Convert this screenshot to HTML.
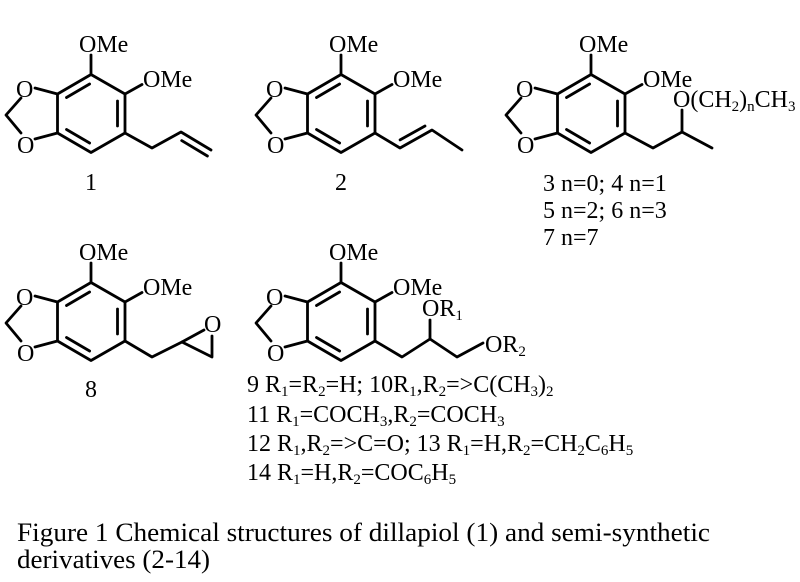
<!DOCTYPE html>
<html><head><meta charset="utf-8"><style>
html,body{margin:0;padding:0;background:#fff;}
svg{display:block;}
text{font-family:"Liberation Serif","Times New Roman",serif;fill:#000;}
</style></head><body>
<svg width="800" height="582" viewBox="0 0 800 582" xmlns="http://www.w3.org/2000/svg">
<rect width="800" height="582" fill="#fff"/>

<!-- Structure 1 -->
<g>
 <g stroke="#000" stroke-width="2.8" fill="none" stroke-linejoin="round" stroke-linecap="round">
  <polygon points="91,74.5 125,94 125,133 91,152.5 57.5,133 57.5,94"/>
  <line x1="66.5" y1="97.5" x2="89.6" y2="84"/>
  <line x1="117.5" y1="101" x2="117.5" y2="126"/>
  <line x1="66.5" y1="129.5" x2="89.6" y2="143"/>
  <line x1="91" y1="74.5" x2="91" y2="55"/>
  <line x1="125" y1="94" x2="142" y2="84.5"/>
  <line x1="57.5" y1="94" x2="35" y2="88"/>
  <line x1="57.5" y1="133" x2="35" y2="139"/>
  <polyline points="21,98 6,115 21,133"/>
  <polyline points="125,133 152,148 181,132 211,150"/>
  <line x1="181.7" y1="140.6" x2="207.4" y2="156"/>
 </g>
 <text x="79" y="52" font-size="24">OMe</text>
 <text x="143" y="87" font-size="24">OMe</text>
 <text x="16" y="97" font-size="24">O</text>
 <text x="17" y="153" font-size="24">O</text>
 <text x="91" y="190" font-size="24" text-anchor="middle">1</text>
</g>

<!-- Structure 2 -->
<g transform="translate(250,0)">
 <g stroke="#000" stroke-width="2.8" fill="none" stroke-linejoin="round" stroke-linecap="round">
  <polygon points="91,74.5 125,94 125,133 91,152.5 57.5,133 57.5,94"/>
  <line x1="66.5" y1="97.5" x2="89.6" y2="84"/>
  <line x1="117.5" y1="101" x2="117.5" y2="126"/>
  <line x1="66.5" y1="129.5" x2="89.6" y2="143"/>
  <line x1="91" y1="74.5" x2="91" y2="55"/>
  <line x1="125" y1="94" x2="142" y2="84.5"/>
  <line x1="57.5" y1="94" x2="35" y2="88"/>
  <line x1="57.5" y1="133" x2="35" y2="139"/>
  <polyline points="21,98 6,115 21,133"/>
  <polyline points="125,133 150,148 182,130 212,150"/>
  <line x1="150.1" y1="139.9" x2="175" y2="126"/>
 </g>
 <text x="79" y="52" font-size="24">OMe</text>
 <text x="143" y="87" font-size="24">OMe</text>
 <text x="16" y="97" font-size="24">O</text>
 <text x="17" y="153" font-size="24">O</text>
 <text x="91" y="190" font-size="24" text-anchor="middle">2</text>
</g>

<!-- Structure 3-7 -->
<g transform="translate(500,0)">
 <g stroke="#000" stroke-width="2.8" fill="none" stroke-linejoin="round" stroke-linecap="round">
  <polygon points="91,74.5 125,94 125,133 91,152.5 57.5,133 57.5,94"/>
  <line x1="66.5" y1="97.5" x2="89.6" y2="84"/>
  <line x1="117.5" y1="101" x2="117.5" y2="126"/>
  <line x1="66.5" y1="129.5" x2="89.6" y2="143"/>
  <line x1="91" y1="74.5" x2="91" y2="55"/>
  <line x1="125" y1="94" x2="142" y2="84.5"/>
  <line x1="57.5" y1="94" x2="35" y2="88"/>
  <line x1="57.5" y1="133" x2="35" y2="139"/>
  <polyline points="21,98 6,115 21,133"/>
  <polyline points="125,133 153,148 182,132 212,148"/>
  <line x1="182" y1="132" x2="182" y2="110"/>
 </g>
 <text x="79" y="52" font-size="24">OMe</text>
 <text x="143" y="87" font-size="24">OMe</text>
 <text x="16" y="97" font-size="24">O</text>
 <text x="17" y="153" font-size="24">O</text>
 <text x="173" y="107" font-size="24">O(CH<tspan font-size="15" dy="4">2</tspan><tspan dy="-4">)</tspan><tspan font-size="15" dy="4">n</tspan><tspan dy="-4">CH</tspan><tspan font-size="15" dy="4">3</tspan></text>
</g>
<text x="543" y="191" font-size="24">3 n=0; 4 n=1</text>
<text x="543" y="218" font-size="24">5 n=2; 6 n=3</text>
<text x="543" y="245" font-size="24">7 n=7</text>

<!-- Structure 8 -->
<g transform="translate(0,208)">
 <g stroke="#000" stroke-width="2.8" fill="none" stroke-linejoin="round" stroke-linecap="round">
  <polygon points="91,74.5 125,94 125,133 91,152.5 57.5,133 57.5,94"/>
  <line x1="66.5" y1="97.5" x2="89.6" y2="84"/>
  <line x1="117.5" y1="101" x2="117.5" y2="126"/>
  <line x1="66.5" y1="129.5" x2="89.6" y2="143"/>
  <line x1="91" y1="74.5" x2="91" y2="55"/>
  <line x1="125" y1="94" x2="142" y2="84.5"/>
  <line x1="57.5" y1="94" x2="35" y2="88"/>
  <line x1="57.5" y1="133" x2="35" y2="139"/>
  <polyline points="21,98 6,115 21,133"/>
  <polyline points="125,133 152,149 182,134 212,149 212,128"/>
  <line x1="182" y1="134" x2="204" y2="122"/>
 </g>
 <text x="79" y="52" font-size="24">OMe</text>
 <text x="143" y="87" font-size="24">OMe</text>
 <text x="16" y="97" font-size="24">O</text>
 <text x="17" y="153" font-size="24">O</text>
 <text x="204" y="124" font-size="24">O</text>
 <text x="91" y="189" font-size="24" text-anchor="middle">8</text>
</g>

<!-- Structure 9-14 -->
<g transform="translate(250,208)">
 <g stroke="#000" stroke-width="2.8" fill="none" stroke-linejoin="round" stroke-linecap="round">
  <polygon points="91,74.5 125,94 125,133 91,152.5 57.5,133 57.5,94"/>
  <line x1="66.5" y1="97.5" x2="89.6" y2="84"/>
  <line x1="117.5" y1="101" x2="117.5" y2="126"/>
  <line x1="66.5" y1="129.5" x2="89.6" y2="143"/>
  <line x1="91" y1="74.5" x2="91" y2="55"/>
  <line x1="125" y1="94" x2="142" y2="84.5"/>
  <line x1="57.5" y1="94" x2="35" y2="88"/>
  <line x1="57.5" y1="133" x2="35" y2="139"/>
  <polyline points="21,98 6,115 21,133"/>
  <polyline points="125,133 152,149 180,131 207,149 233,135"/>
  <line x1="180" y1="131" x2="180" y2="112"/>
 </g>
 <text x="79" y="52" font-size="24">OMe</text>
 <text x="143" y="87" font-size="24">OMe</text>
 <text x="16" y="97" font-size="24">O</text>
 <text x="17" y="153" font-size="24">O</text>
 <text x="172" y="108" font-size="24">OR<tspan font-size="15" dy="4">1</tspan></text>
 <text x="235" y="144" font-size="24">OR<tspan font-size="15" dy="4">2</tspan></text>
</g>

<!-- Text block for 9-14 -->
<text x="247" y="392" font-size="24">9 R<tspan font-size="15" dy="4">1</tspan><tspan dy="-4">=R</tspan><tspan font-size="15" dy="4">2</tspan><tspan dy="-4">=H; 10R</tspan><tspan font-size="15" dy="4">1</tspan><tspan dy="-4">,R</tspan><tspan font-size="15" dy="4">2</tspan><tspan dy="-4">=&gt;C(CH</tspan><tspan font-size="15" dy="4">3</tspan><tspan dy="-4">)</tspan><tspan font-size="15" dy="4">2</tspan></text>
<text x="247" y="422" font-size="24">11 R<tspan font-size="15" dy="4">1</tspan><tspan dy="-4">=COCH</tspan><tspan font-size="15" dy="4">3</tspan><tspan dy="-4">,R</tspan><tspan font-size="15" dy="4">2</tspan><tspan dy="-4">=COCH</tspan><tspan font-size="15" dy="4">3</tspan></text>
<text x="247" y="451" font-size="24">12 R<tspan font-size="15" dy="4">1</tspan><tspan dy="-4">,R</tspan><tspan font-size="15" dy="4">2</tspan><tspan dy="-4">=&gt;C=O; 13 R</tspan><tspan font-size="15" dy="4">1</tspan><tspan dy="-4">=H,R</tspan><tspan font-size="15" dy="4">2</tspan><tspan dy="-4">=CH</tspan><tspan font-size="15" dy="4">2</tspan><tspan dy="-4">C</tspan><tspan font-size="15" dy="4">6</tspan><tspan dy="-4">H</tspan><tspan font-size="15" dy="4">5</tspan></text>
<text x="247" y="480" font-size="24">14 R<tspan font-size="15" dy="4">1</tspan><tspan dy="-4">=H,R</tspan><tspan font-size="15" dy="4">2</tspan><tspan dy="-4">=COC</tspan><tspan font-size="15" dy="4">6</tspan><tspan dy="-4">H</tspan><tspan font-size="15" dy="4">5</tspan></text>

<!-- Caption -->
<text x="17" y="541" font-size="26" textLength="693" lengthAdjust="spacingAndGlyphs">Figure 1 Chemical structures of dillapiol (1) and semi-synthetic</text>
<text x="17" y="568" font-size="26" textLength="193" lengthAdjust="spacingAndGlyphs">derivatives (2-14)</text>
</svg>
</body></html>
